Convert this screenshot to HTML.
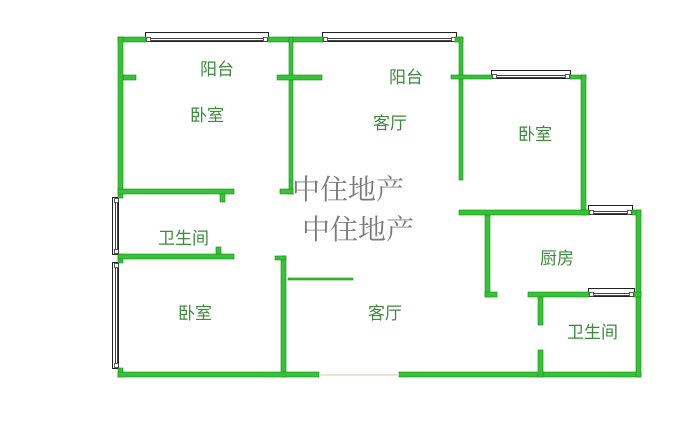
<!DOCTYPE html>
<html><head><meta charset="utf-8"><style>
html,body{margin:0;padding:0;background:#fff;width:693px;height:430px;overflow:hidden}
svg{display:block}
.l{font-family:"Liberation Sans","Noto Sans CJK SC",sans-serif;font-size:17px;fill:#3c8a3c}
.w{font-family:"Noto Serif CJK SC","WenQuanYi Zen Hei",serif;font-size:28px;fill:#7a7a7a}
</style></head><body>
<svg width="693" height="430" viewBox="0 0 693 430" xmlns="http://www.w3.org/2000/svg">
<g fill="#fff" stroke="#222" stroke-width="1">
<rect x="145.5" y="32.5" width="123" height="9"/>
<rect x="322.5" y="32.5" width="134" height="9"/>
<rect x="491.5" y="70.5" width="79" height="8"/>
<rect x="588.5" y="205.5" width="44" height="9"/>
<rect x="588.5" y="288.5" width="46" height="8"/>
<rect x="112.5" y="197.5" width="6" height="57"/>
<rect x="112.5" y="262.5" width="6" height="106"/>
</g>
<g fill="none" stroke="#444" stroke-width="1">
<line x1="151" y1="38.5" x2="263" y2="38.5"/><line x1="151" y1="40.5" x2="263" y2="40.5"/>
<line x1="328" y1="38.5" x2="451" y2="38.5"/><line x1="328" y1="40.5" x2="451" y2="40.5"/>
<line x1="497" y1="75.5" x2="565" y2="75.5"/><line x1="497" y1="77.5" x2="565" y2="77.5"/>
<line x1="594" y1="211.5" x2="627" y2="211.5"/><line x1="594" y1="213.5" x2="627" y2="213.5"/>
<line x1="594" y1="293.5" x2="629" y2="293.5"/><line x1="594" y1="295.5" x2="629" y2="295.5"/>
<line x1="115.5" y1="203" x2="115.5" y2="249"/><line x1="117.5" y1="203" x2="117.5" y2="249"/>
<line x1="115.5" y1="268" x2="115.5" y2="363"/><line x1="117.5" y1="268" x2="117.5" y2="363"/>
</g>
<g fill="#fff" stroke="#333" stroke-width="0.8">
<rect x="146.5" y="37.5" width="4" height="4"/><rect x="263.5" y="37.5" width="4" height="4"/>
<rect x="323.5" y="37.5" width="4" height="4"/><rect x="451.5" y="37.5" width="4" height="4"/>
<rect x="492.5" y="74.5" width="4" height="4"/><rect x="565.5" y="74.5" width="4" height="4"/>
<rect x="589.5" y="210.5" width="4" height="4"/><rect x="627.5" y="210.5" width="4" height="4"/>
<rect x="589.5" y="292.5" width="4" height="4"/><rect x="629.5" y="292.5" width="4" height="4"/>
<rect x="114.5" y="198.5" width="4" height="4"/><rect x="114.5" y="249.5" width="4" height="4"/>
<rect x="114.5" y="263.5" width="4" height="4"/><rect x="114.5" y="363.5" width="4" height="4"/>
</g>
<g fill="#35c435" stroke="#1f8a1f" stroke-width="0.6">
<rect x="118" y="37" width="28" height="5"/><rect x="268" y="37" width="55" height="5"/><rect x="455" y="37" width="8" height="5"/>
<rect x="118" y="37" width="5" height="161"/>
<rect x="118" y="254" width="5" height="9"/>
<rect x="118" y="368" width="5" height="9"/>
<rect x="123" y="75" width="13" height="5"/>
<rect x="289" y="37" width="4" height="157"/>
<rect x="277" y="75" width="45" height="5"/>
<rect x="280" y="189" width="13" height="5"/>
<rect x="459" y="37" width="4" height="143"/>
<rect x="451" y="75" width="41" height="4"/><rect x="570" y="75" width="16" height="4"/>
<rect x="581" y="75" width="5" height="140"/>
<rect x="118" y="189" width="116" height="5"/>
<rect x="220" y="194" width="5" height="8"/>
<rect x="118" y="254" width="116" height="5"/>
<rect x="216" y="247" width="5" height="7"/>
<rect x="281" y="256" width="5" height="121"/>
<rect x="275" y="256" width="11" height="4"/>
<rect x="288" y="278" width="65" height="2"/>
<rect x="118" y="372" width="201" height="5"/>
<rect x="399" y="372" width="242" height="5"/>
<rect x="459" y="210" width="130" height="5"/><rect x="632" y="210" width="9" height="5"/>
<rect x="636" y="210" width="5" height="167"/>
<rect x="485" y="215" width="5" height="82"/>
<rect x="485" y="292" width="12" height="5"/>
<rect x="528" y="292" width="61" height="5"/><rect x="634" y="292" width="7" height="5"/>
<rect x="538" y="297" width="5" height="28"/>
<rect x="538" y="350" width="5" height="27"/>
</g>
<line x1="319" y1="375" x2="399" y2="375" stroke="#e8e4d8" stroke-width="2"/>
<g class="l">
<text x="200" y="75">阳台</text>
<text x="389" y="83">阳台</text>
<text x="190" y="121">卧室</text>
<text x="373" y="129">客厅</text>
<text x="518" y="140">卧室</text>
<text x="158" y="244">卫生间</text>
<text x="540" y="264">厨房</text>
<text x="178" y="319">卧室</text>
<text x="368" y="319">客厅</text>
<text x="567" y="338">卫生间</text>
</g>
<text class="w" x="292" y="199">中住地产</text>
<text class="w" x="302" y="239">中住地产</text>
</svg>
</body></html>
